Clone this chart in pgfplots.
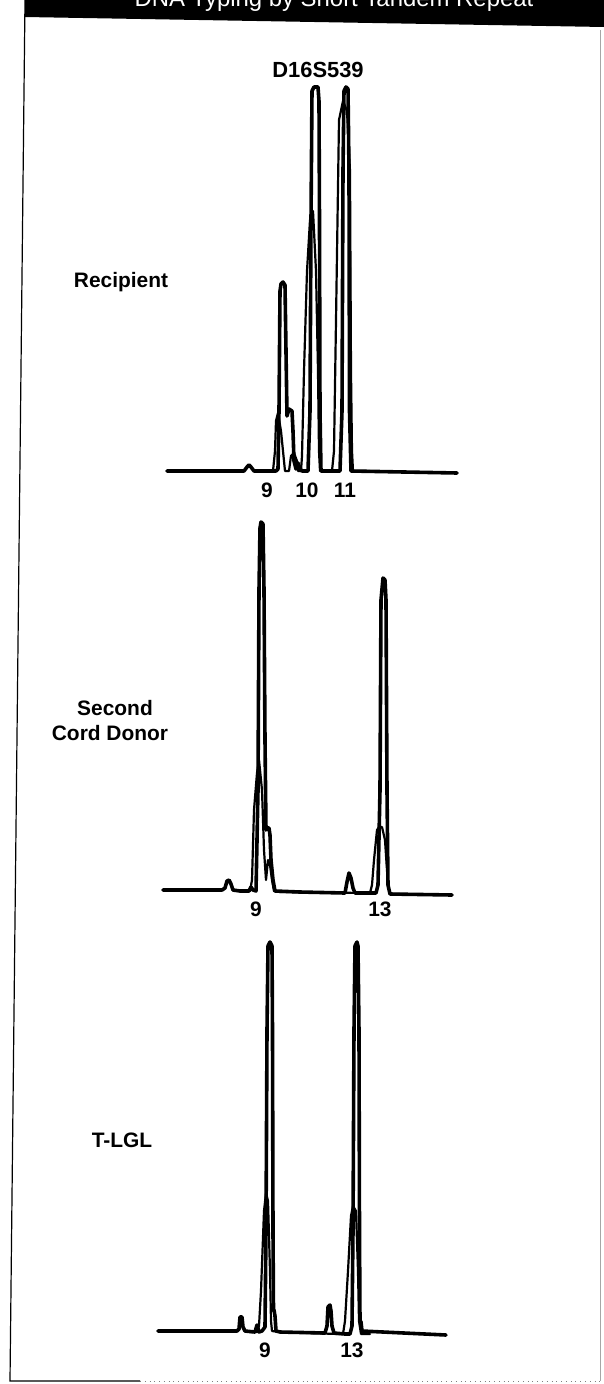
\documentclass[border=0pt]{standalone}
\usepackage{fontspec}
\setmainfont{Liberation Sans}
\usepackage{pgfplots}
\usepackage{pgfplotstable}
\pgfplotsset{compat=1.18}

% x = horizontal position (scan px), h = signal height above baseline (px)
\pgfplotstableread{
x h
167 0
244 0
247 4
249 6
251 4
254 0
276 0
278 2
279 60
280 180
281 187
283 189
285 186
286 120
287 55
289 62
292 60
293 40
294 10
296 2
298 8
300 2
302 0
308 0
310 60
311 250
312 380
314 384
318 384
319 370
319.5 250
320 60
321 0
340 0
342 60
343 300
344 380
346 384
348 382
349 300
349.5 60
351 0
457 -2
}\pOneA
\pgfplotstableread{
x h
260 0
273 0
275 20
276 50
278 58
281 40
283 20
285 0
289 0
291 15
294 18
297 10
298 0
301 0
302 15
304 100
307 200
310 251
313 260
316 200
318 100
319 20
320 0
332 0
334 20
336 150
339 351
343 370
347 360
350 300
351 100
352 20
353 0
370 0
}\pOneB
\pgfplotstableread{
x h
163 0
222 0
225 2
227 9
229 10
231 6
233 0
240 -1
249 -1
251 3
253 0
256 -1
258 100
259 300
260 362
261 368
263 366
264 300
265 150
266 60
267 62
269 62
270 55
271 30
273 10
275 -1
300 -2
345 -3
347 8
349 17
351 12
353 2
355 -3
376 -3
378 5
380 100
381 290
383 312
385 310
386 290
387 100
388 5
390 -4
452 -5
}\pTwoA
\pgfplotstableread{
x h
245 -1
250 -1
252 10
254 80
257 117
259 130
262 100
264 40
266 10
268 30
270 25
272 10
274 -1
280 -2
365 -3
370 -3
372 5
374 30
377 60
379 63
382 63
385 50
387 20
388 5
390 -4
400 -4
}\pTwoB
\pgfplotstableread{
x h
158 0
237 0
239 2
240 14
242 14
243 4
245 0
255 -1
257 6
259 -1
262 0
265 4
266 100
267 300
268 385
270 389
272 385
272.5 300
273 100
273.5 20
274 21
275 15
276 0
280 -1
325 -2
327 5
328 24
330 26
331 20
332 5
334 -2
345 -3
350 -3
352 5
353 100
354 300
355 385
357 389
358 385
359 300
359.5 100
360 10
361 9
362 0
446 -4
}\pThreeA
\pgfplotstableread{
x h
250 -1
257 -1
259 5
261 40
264 120
266 138
268 130
270 60
271 10
272 0
280 -1
338 -3
343 -3
345 10
348 60
351 115
353 125
356 120
358 60
359 10
361 -3
370 -3
}\pThreeB

\pgfplotsset{
  trace panel/.style={
    scale only axis, width=160bp, height=205bp,
    xmin=150, xmax=470, ymin=-10, ymax=400,
    axis line style={draw=none}, major tick length=0pt, ytick=\empty,
    clip=false, anchor=south west,
    xticklabel style={font=\fontsize{10.5}{12}\selectfont\bfseries, anchor=center, yshift=-4.5bp},
  },
  main trace/.style={black, line width=1.8bp, line join=round, line cap=round},
  second trace/.style={black, line width=1.1bp, line join=round, line cap=round},
}

\begin{document}
\begin{tikzpicture}
\useasboundingbox (0,0) rectangle (302bp,-692bp);
% header band
\fill[black] (12.5bp,0) -- (302bp,0) -- (302bp,-13.5bp) -- (12.5bp,-8.5bp) -- cycle;
\begin{scope}
\clip (12.5bp,0) rectangle (302bp,-8bp);
\node[white, anchor=base, font=\fontsize{12}{14}\selectfont] at (167bp,-3bp) {DNA Typing by Short Tandem Repeat};
\end{scope}
% frame
\draw[black, line width=0.6bp] (12.5bp,0) -- (5bp,-690.5bp) -- (70bp,-690.5bp);
\draw[gray, line width=0.4bp, dotted] (70bp,-690.5bp) -- (302bp,-690.5bp);
\draw[gray!70, line width=0.4bp] (300bp,-15bp) -- (300bp,-690.5bp);

\node[font=\fontsize{11}{13}\selectfont\bfseries] at (159bp,-35bp) {D16S539};
\node[anchor=base, font=\fontsize{10.5}{12}\selectfont\bfseries] at (60.5bp,-143.5bp) {Recipient};
\node[anchor=base, font=\fontsize{10.5}{12}\selectfont\bfseries] at (57.5bp,-357.5bp) {Second};
\node[anchor=base, font=\fontsize{10.5}{12}\selectfont\bfseries] at (55bp,-370bp) {Cord Donor};
\node[anchor=base, font=\fontsize{10.5}{12}\selectfont\bfseries] at (61bp,-573.5bp) {T-LGL};

% Recipient
\begin{axis}[trace panel, at={(75bp,-240.5bp)},
  xtick={267,307,345}, xticklabels={9,10,11}]
\addplot[second trace] table[x=x,y=h] {\pOneB};
\addplot[main trace] table[x=x,y=h] {\pOneA};
\end{axis}
% Second cord donor
\begin{axis}[trace panel, at={(75bp,-450bp)},
  xtick={256,380}, xticklabels={9,13}]
\addplot[second trace] table[x=x,y=h] {\pTwoB};
\addplot[main trace] table[x=x,y=h] {\pTwoA};
\end{axis}
% T-LGL
\begin{axis}[trace panel, at={(75bp,-670.5bp)},
  xtick={265,352}, xticklabels={9,13}]
\addplot[second trace] table[x=x,y=h] {\pThreeB};
\addplot[main trace] table[x=x,y=h] {\pThreeA};
\end{axis}
\end{tikzpicture}
\end{document}
